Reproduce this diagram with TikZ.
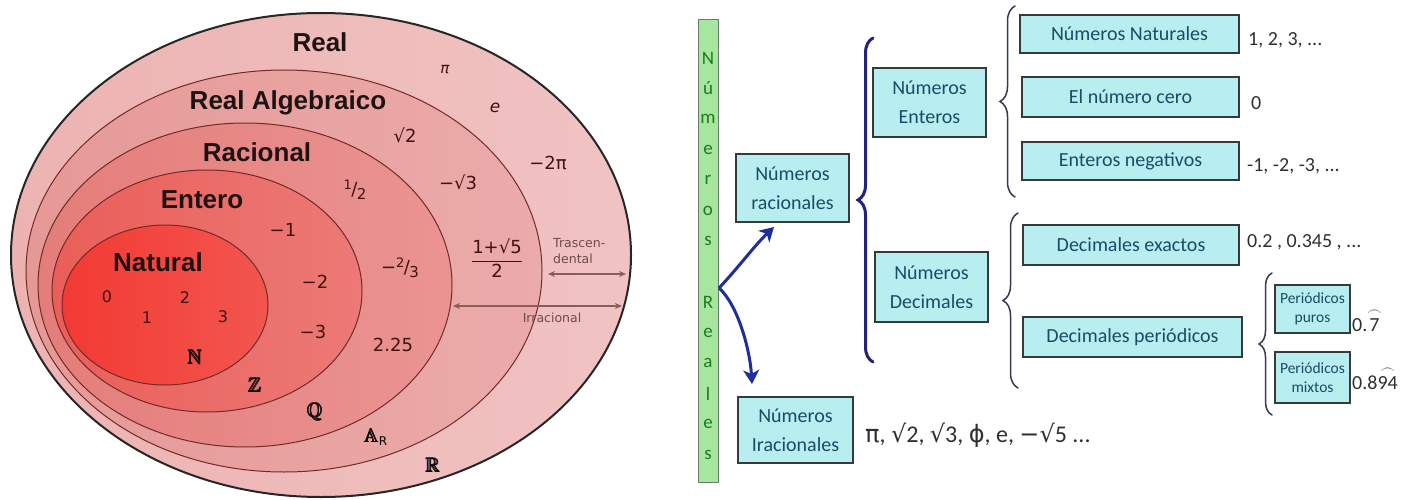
\documentclass[tikz,border=0pt]{standalone}
\usepackage{amsmath}
\usepackage{amssymb}
\usepackage{fontspec}
\usetikzlibrary{arrows.meta,decorations.pathreplacing}
\newfontfamily\labfont{Liberation Sans}
\newfontfamily\numfont{DejaVu Sans}
\newfontfamily\cfont{Carlito}
\definecolor{ringA}{HTML}{ECB3B2}
\definecolor{ringAr}{HTML}{F0C3C2}
\definecolor{ringB}{HTML}{E59997}
\definecolor{ringBr}{HTML}{EBABAA}
\definecolor{ringC}{HTML}{E47D7A}
\definecolor{ringCr}{HTML}{EA9492}
\definecolor{ringD}{HTML}{EA5E59}
\definecolor{ringDr}{HTML}{EC7A76}
\definecolor{ringE}{HTML}{F23A33}
\definecolor{ringEr}{HTML}{F2564F}
\definecolor{ringline}{HTML}{742828}
\definecolor{numcol}{HTML}{401212}
\definecolor{labcol}{HTML}{1E1212}
\definecolor{arrcol}{HTML}{8A5C5C}
\definecolor{boxfill}{HTML}{B8EEF0}
\definecolor{boxdraw}{HTML}{333B3B}
\definecolor{boxtext}{HTML}{1C4A68}
\definecolor{barfill}{HTML}{A6E69E}
\definecolor{bardraw}{HTML}{6A7A6A}
\definecolor{bartext}{HTML}{1F7A1F}
\definecolor{bluearr}{HTML}{1E2E9A}
\definecolor{bigbr}{HTML}{23237E}
\definecolor{smallbr}{HTML}{3B3652}
\definecolor{valtext}{HTML}{2E3030}
\newcommand\upfrac[2]{\raisebox{0.32em}{\fontsize{13}{13}\selectfont #1}\kern-0.5pt/\kern-0.5pt\raisebox{-0.22em}{\fontsize{15}{15}\selectfont #2}}
\begin{document}
\begin{tikzpicture}[x=1pt,y=-1pt,
  setlab/.style={font=\labfont\bfseries\fontsize{26}{28}\selectfont, text=labcol, inner sep=0pt},
  num/.style={font=\numfont\fontsize{18}{20}\selectfont, text=numcol, inner sep=0pt},
  smallnum/.style={font=\numfont\fontsize{16}{18}\selectfont, text=numcol, inner sep=0pt},
  bbl/.style={font=\fontsize{20}{22}\selectfont, text=black, inner sep=0pt},
  tinylab/.style={font=\numfont\fontsize{12.5}{16}\selectfont, text=arrcol!80!black, inner sep=0pt},
  ringdraw/.style={draw=ringline, line width=1pt},
  dblarr/.style={draw=arrcol, line width=1.3pt, {Stealth[length=7pt,width=6pt]}-{Stealth[length=7pt,width=6pt]}},
  rbox/.style={draw=boxdraw, line width=2.2pt, fill=boxfill, text=boxtext, inner sep=0pt, align=center, font=\cfont\fontsize{20}{29}\selectfont},
  sbox/.style={rbox, font=\cfont\fontsize{15.5}{19}\selectfont},
  val/.style={font=\cfont\fontsize{20}{22}\selectfont, text=valtext, inner sep=0pt, anchor=west},
  barletter/.style={font=\cfont\fontsize{19}{19}\selectfont, text=bartext, inner sep=0pt},
  bigbrace/.style={draw=bigbr, line width=3pt, line cap=round, decorate, decoration={brace, amplitude=15pt}},
  smallbrace/.style={draw=smallbr, line width=1.5pt, line cap=round, decorate, decoration={brace, amplitude=15pt}},
  bluearrow/.style={draw=bluearr, line width=3pt, -{Stealth[length=14pt,width=16pt,inset=4pt]}}
]
\useasboundingbox (0,0) rectangle (1419,500);
% ---------------- left: nested sets ----------------
\shade[left color=ringA, right color=ringAr] (321,255) ellipse [x radius=310, y radius=242];
\shade[left color=ringB, right color=ringBr] (284,271) ellipse [x radius=258, y radius=201];
\shade[left color=ringC, right color=ringCr] (245,285) ellipse [x radius=207, y radius=162];
\shade[left color=ringD, right color=ringDr] (207,291) ellipse [x radius=155, y radius=121];
\shade[left color=ringE, right color=ringEr] (165,305) ellipse [x radius=103, y radius=80];
\draw[ringdraw] (284,271) ellipse [x radius=258, y radius=201];
\draw[ringdraw] (245,285) ellipse [x radius=207, y radius=162];
\draw[ringdraw] (207,291) ellipse [x radius=155, y radius=121];
\draw[ringdraw] (165,305) ellipse [x radius=103, y radius=80];
\draw[black!85, line width=2pt] (321,255) ellipse [x radius=310, y radius=242];

\node[setlab] (lReal) at (320,42) {Real};
\node[setlab] (lAlg) at (288,103) {Real Algebraico};
\node[setlab] (lRac) at (257,152) {Racional};
\node[setlab] (lEnt) at (202,200) {Entero};
\node[setlab] (lNat) at (158,262) {Natural};

\node[num, font=\numfont\itshape\fontsize{15}{16}\selectfont] (npi) at (445,70) {π};
\node[num, font=\numfont\itshape\fontsize{17}{18}\selectfont] (ne) at (495,108) {e};
\node[num] (nsq2) at (405,135) {√2};
\node[num] (nm2pi) at (548,163) {−2π};
\node[num] (nmsq3) at (458,182) {−√3};
\node[num] (nhalf) at (355,190) {\upfrac{1}{2}};
\node[num] (nm1) at (283,230) {−1};
\node[num] (nm23) at (400,268) {−\upfrac{2}{3}};
\node[num] (nm2) at (315,282) {−2};
\node[num] (nm3) at (313,332) {−3};
\node[num] (n225) at (393,345) {2.25};
\node[num] (nphi) at (497,258) {$\dfrac{\mbox{1+√5}}{\mbox{2}}$};
\node[smallnum] (n0) at (107,297) {0};
\node[smallnum] (n2) at (185,298) {2};
\node[smallnum] (n1) at (147,318) {1};
\node[smallnum] (n3) at (223,317) {3};

\node[bbl] (sN) at (195,357) {$\pmb{\mathbb{N}}$};
\node[bbl] (sZ) at (255,385) {$\pmb{\mathbb{Z}}$};
\node[bbl] (sQ) at (315,412) {$\pmb{\mathbb{Q}}$};
\node[bbl] (sA) at (376,437) {$\pmb{\mathbb{A}}_{\mbox{\numfont\fontsize{12}{12}\selectfont R}}$};
\node[bbl] (sR) at (433,465) {$\pmb{\mathbb{R}}$};

\node[tinylab, anchor=west, align=left] (ltras) at (553,251) {Trascen-\\dental};
\coordinate (tA) at (548,274);
\coordinate (tB) at (626,274);
\draw[dblarr] (tA) -- (tB);
\coordinate (iA) at (453,306);
\coordinate (iB) at (622,306);
\draw[dblarr] (iA) -- (iB);
\node[tinylab] (lirr) at (552,318) {Irracional};

% ---------------- right: classification ----------------
\node[draw=bardraw, fill=barfill, line width=1pt, minimum width=20pt, minimum height=462pt, inner sep=0pt] (bar) at (708,251) {};
\foreach \l [count=\i from 0] in {N,ú,m,e,r,o,s,{},R,e,a,l,e,s}
  \node[barletter] (bl\i) at (708,{58+30.5*\i}) {\l};

\node[rbox, minimum width=113pt, minimum height=68pt] (rac) at (792.5,188) {Números\\racionales};
\node[rbox, minimum width=115pt, minimum height=66pt] (irr) at (795.5,430) {Números\\Iracionales};
\node[rbox, minimum width=113pt, minimum height=69pt] (ent) at (929.5,102.5) {Números\\Enteros};
\node[rbox, minimum width=113pt, minimum height=70pt] (dec) at (931.5,287) {Números\\Decimales};
\node[rbox, minimum width=219pt, minimum height=38pt] (nat) at (1129.5,34) {Números Naturales};
\node[rbox, minimum width=217pt, minimum height=40pt] (cero) at (1130.5,97) {El número cero};
\node[rbox, minimum width=217pt, minimum height=38pt] (neg) at (1130.5,161) {Enteros negativos};
\node[rbox, minimum width=216pt, minimum height=40pt] (exa) at (1131,245) {Decimales exactos};
\node[rbox, minimum width=219pt, minimum height=40pt] (per) at (1132.5,337) {Decimales periódicos};
\node[sbox, minimum width=75pt, minimum height=48pt] (puros) at (1312.5,309) {Periódicos\\puros};
\node[sbox, minimum width=75pt, minimum height=51pt] (mixtos) at (1312.5,377.5) {Periódicos\\mixtos};

\node[val] (vnat) at (1248,40) {1, 2, 3, ...};
\node[val] (vcero) at (1251,103) {0};
\node[val] (vneg) at (1247,166) {-1, -2, -3, ...};
\node[val] (vexa) at (1247,242) {0.2 , 0.345 , ...};
\node[val] (vpur) at (1352,320) {0.$\overset{\frown}{\mbox{7}}$};
\node[val] (vmix) at (1352,378) {0.8$\overset{\frown}{\mbox{94}}$};
\node[val, font=\cfont\fontsize{24}{26}\selectfont] (virr) at (865,435) {{\numfont π}, {\numfont √}2, {\numfont √}3, {\numfont ϕ}, e, {\numfont −√}5 ...};

\coordinate (bgB) at (873,362);
\coordinate (bgT) at (873,38);
\draw[bigbrace] (bgB) -- (bgT);
\coordinate (beB) at (1015,197);
\coordinate (beT) at (1015,6);
\draw[smallbrace] (beB) -- (beT);
\coordinate (bdB) at (1018,388);
\coordinate (bdT) at (1018,213);
\draw[smallbrace] (bdB) -- (bdT);
\coordinate (bpB) at (1272,415);
\coordinate (bpT) at (1272,273);
\draw[smallbrace, decoration={brace, amplitude=13pt}] (bpB) -- (bpT);

\coordinate (ao) at (719,288);
\coordinate (at1) at (774,227);
\coordinate (at2) at (752,384);
\draw[bluearrow] (ao) .. controls (738,268) and (755,245) .. (at1);
\draw[bluearrow] (ao) .. controls (738,305) and (750,350) .. (at2);
\end{tikzpicture}
\end{document}
